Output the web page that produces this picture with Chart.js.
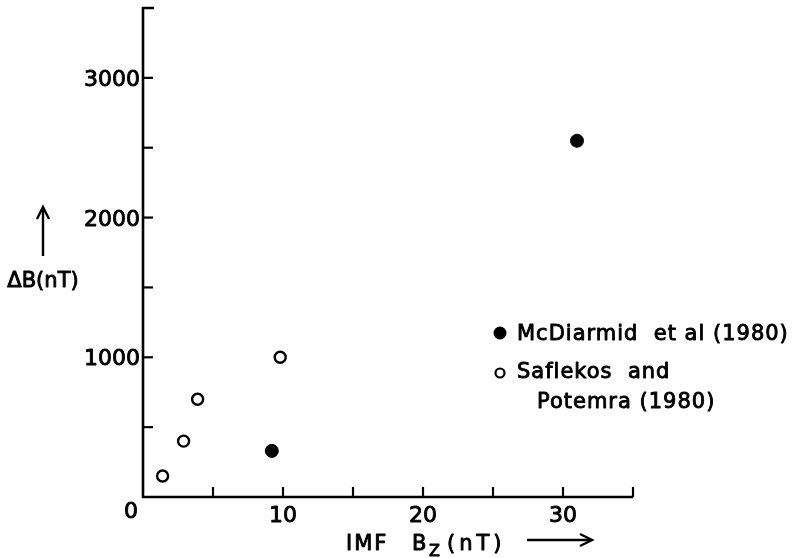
<!DOCTYPE html>
<html><head><meta charset="utf-8">
<script src="https://cdn.jsdelivr.net/npm/chart.js@4/dist/chart.umd.min.js"></script>
<style>html,body{margin:0;padding:0;background:#fff}canvas{display:block}</style>
</head><body>
<canvas id="c" width="793" height="558"></canvas>
<script>
// Data
const mcdX = [9.2, 31.0];
const mcdY = [330, 2550];
const safX = [1.4, 2.9, 3.9, 9.8];
const safY = [150, 400, 700, 1000];
// Axis ticks
const xTickValues = [5, 10, 15, 20, 25, 30, 35];
const xLabelValues = [10, 20, 30];
const yTickValues = [500, 1000, 1500, 2000, 2500, 3000];
const yLabelValues = [1000, 2000, 3000];
const originLabel = '0';
const legendLabels = ['McDiarmid  et al (1980)', 'Saflekos  and', 'Potemra (1980)'];
const yTitle = 'ΔB(nT)';
const xTitleParts = ['IMF', 'B', 'Z', '(nT)'];

const FONT = '"DejaVu Sans", sans-serif';

function txt(ctx, s, x, y) {
  ctx.fillText(s, x, y);
  ctx.save();
  ctx.lineWidth = 0.9;
  ctx.lineJoin = 'round';
  ctx.strokeText(s, x, y);
  ctx.restore();
}

const decor = {
  id: 'decor',
  beforeDatasetsDraw(chart) {
    const ctx = chart.ctx;
    const xs = chart.scales.x, ys = chart.scales.y;
    const x0 = xs.getPixelForValue(0), x1 = xs.getPixelForValue(35);
    const y0 = ys.getPixelForValue(0), y1 = ys.getPixelForValue(3500);
    ctx.save();
    ctx.strokeStyle = '#000';
    ctx.fillStyle = '#000';
    ctx.lineWidth = 2.6;
    ctx.lineCap = 'butt';
    // axes
    ctx.beginPath();
    ctx.moveTo(x0 + 11, y1);
    ctx.lineTo(x0, y1);
    ctx.lineTo(x0, y0);
    ctx.lineTo(x1, y0);
    ctx.stroke();
    ctx.lineWidth = 2.2;
    // y ticks (inward)
    yTickValues.forEach(v => {
      const p = ys.getPixelForValue(v);
      ctx.beginPath(); ctx.moveTo(x0, p); ctx.lineTo(x0 + 10, p); ctx.stroke();
    });
    // x ticks (inward)
    xTickValues.forEach(v => {
      const p = xs.getPixelForValue(v);
      ctx.beginPath(); ctx.moveTo(p, y0); ctx.lineTo(p, y0 - 10); ctx.stroke();
    });
    // tick labels
    ctx.font = '22px ' + FONT;
    ctx.textBaseline = 'alphabetic';
    ctx.textAlign = 'right';
    yLabelValues.forEach(v => {
      txt(ctx, String(v), x0 - 3, ys.getPixelForValue(v) + 8);
    });
    ctx.textAlign = 'center';
    xLabelValues.forEach(v => {
      txt(ctx, String(v), xs.getPixelForValue(v), y0 + 25);
    });
    txt(ctx, originLabel, x0 - 12, y0 + 21);

    // y title with up arrow
    ctx.font = '21px ' + FONT;
    txt(ctx, yTitle, 43, 287);
    ctx.lineWidth = 2.4;
    ctx.beginPath(); ctx.moveTo(43, 256); ctx.lineTo(43, 208); ctx.stroke();
    ctx.beginPath(); ctx.moveTo(37, 219); ctx.lineTo(43, 207); ctx.lineTo(49, 219); ctx.stroke();

    // x title
    ctx.textAlign = 'left';
    ctx.font = '21px ' + FONT;
    ctx.letterSpacing = '2px';
    txt(ctx, xTitleParts[0], 346, 550);
    ctx.letterSpacing = '0px';
    txt(ctx, xTitleParts[1], 412, 550);
    ctx.font = '16px ' + FONT;
    txt(ctx, xTitleParts[2], 429, 556);
    ctx.font = '21px ' + FONT;
    ctx.letterSpacing = '4px';
    txt(ctx, xTitleParts[3], 447, 550);
    ctx.letterSpacing = '0px';
    ctx.lineWidth = 2.4;
    ctx.beginPath(); ctx.moveTo(527, 540); ctx.lineTo(591, 540); ctx.stroke();
    ctx.beginPath(); ctx.moveTo(580, 534); ctx.lineTo(592, 540); ctx.lineTo(580, 546); ctx.stroke();

    // legend
    ctx.font = '21px ' + FONT;
    ctx.letterSpacing = '1px';
    ctx.beginPath(); ctx.arc(500, 333, 6.5, 0, Math.PI * 2); ctx.fill();
    txt(ctx, legendLabels[0], 517, 340);
    ctx.lineWidth = 2.2;
    ctx.beginPath(); ctx.arc(500, 373, 4.5, 0, Math.PI * 2); ctx.stroke();
    txt(ctx, legendLabels[1], 517, 378);
    txt(ctx, legendLabels[2], 537, 408);
    ctx.letterSpacing = '0px';
    ctx.restore();
  }
};

new Chart(document.getElementById('c'), {
  type: 'scatter',
  data: {
    datasets: [
      {
        label: legendLabels[0],
        data: mcdX.map((x, i) => ({ x, y: mcdY[i] })),
        pointStyle: 'circle',
        pointRadius: 6.5,
        pointBackgroundColor: '#000',
        pointBorderColor: '#000',
        pointBorderWidth: 1,
        clip: false
      },
      {
        label: legendLabels[1] + ' ' + legendLabels[2],
        data: safX.map((x, i) => ({ x, y: safY[i] })),
        pointStyle: 'circle',
        pointRadius: 5.5,
        pointBackgroundColor: '#fff',
        pointBorderColor: '#000',
        pointBorderWidth: 2.4,
        clip: false
      }
    ]
  },
  options: {
    responsive: false,
    devicePixelRatio: 1,
    animation: false,
    layout: { padding: { left: 143, right: 160, top: 8, bottom: 61 } },
    plugins: { legend: { display: false }, tooltip: { enabled: false } },
    scales: {
      x: { type: 'linear', min: 0, max: 35, display: false },
      y: { type: 'linear', min: 0, max: 3500, display: false }
    }
  },
  plugins: [decor]
});
</script>
</body></html>
